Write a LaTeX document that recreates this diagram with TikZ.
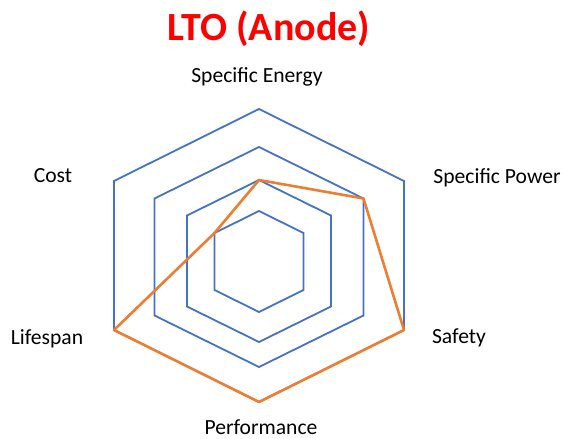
\documentclass[tikz,border=0pt]{standalone}
\usepackage{fontspec}
\setmainfont{Carlito}
\definecolor{ringblue}{HTML}{4472C4}
\definecolor{scoreorange}{HTML}{ED7D31}
\definecolor{titlered}{HTML}{FF0000}

\begin{document}
\begin{tikzpicture}[x=1pt, y=-1pt,
  ring/.style={draw=ringblue, line width=1.8pt},
  score/.style={draw=scoreorange, line width=2.6pt, line join=round},
  axislabel/.style={font=\fontsize{21.6}{24}\selectfont, anchor=base, inner sep=0pt},
  heading/.style={font=\fontsize{40}{44}\selectfont\bfseries, text=titlered, anchor=base, inner sep=0pt}]
\useasboundingbox (0,0) rectangle (566,439);

% rings: index / centre y / half height / half width / side offset
\foreach \i/\cy/\h/\w/\s in {1/261.5/50.5/44.5/28.5, 2/261/81/72/45.5,
                             3/257/110/104.5/58.5, 4/255.5/146.5/145/74.5} {
  \coordinate (r\i-se) at (259,\cy-\h);
  \coordinate (r\i-sp) at (259+\w,\cy-\s);
  \coordinate (r\i-sa) at (259+\w,\cy+\s);
  \coordinate (r\i-pe) at (259,\cy+\h);
  \coordinate (r\i-li) at (259-\w,\cy+\s);
  \coordinate (r\i-co) at (259-\w,\cy-\s);
  \draw[ring] (r\i-se) -- (r\i-sp) -- (r\i-sa) -- (r\i-pe) -- (r\i-li) -- (r\i-co) -- cycle;
}

\draw[score] (r2-se) -- (r3-sp) -- (r4-sa) -- (r4-pe) -- (r4-li) -- (r1-co) -- cycle;

\node[heading] (title) at (269,41) {LTO (Anode)};
\node[axislabel] (energy) at (257,82) {Specific Energy};
\node[axislabel] (power) at (497,183) {Specific Power};
\node[axislabel] (safety) at (459,343) {Safety};
\node[axislabel] (perf) at (261,434) {Performance};
\node[axislabel] (life) at (47,344) {Lifespan};
\node[axislabel] (cost) at (53,182) {Cost};
\end{tikzpicture}
\end{document}
